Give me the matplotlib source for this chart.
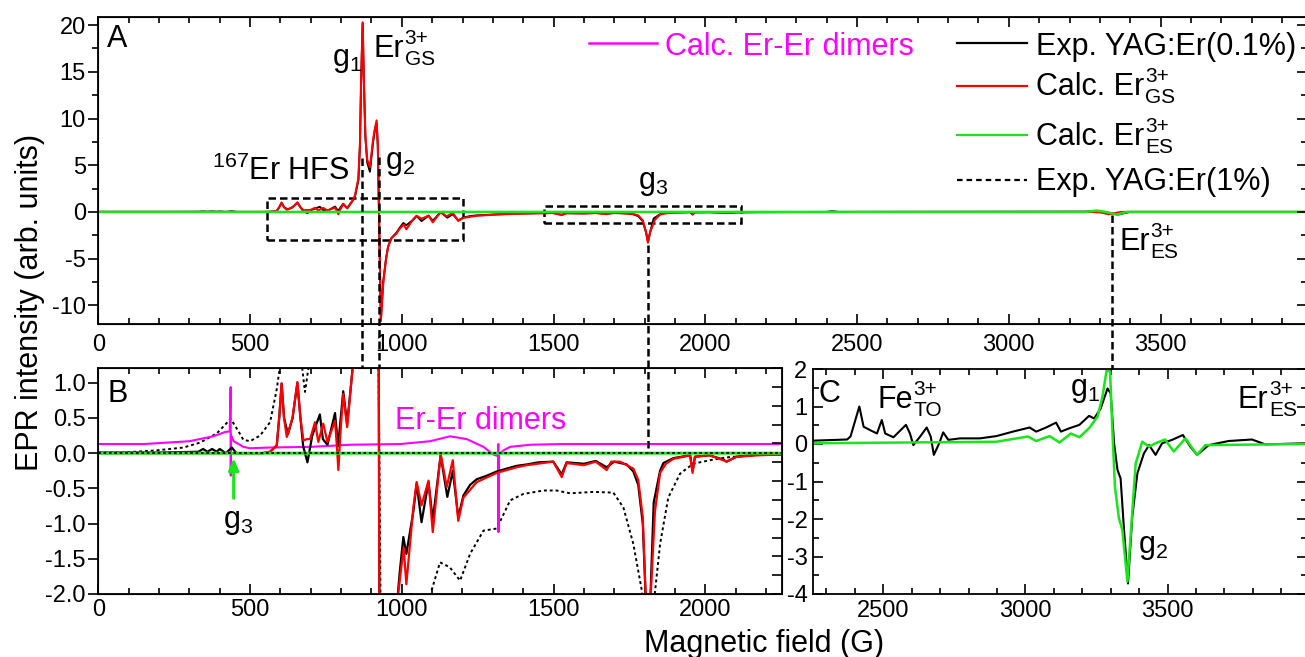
import numpy as np
import matplotlib as mpl
mpl.use('Agg')
import matplotlib.pyplot as plt
from matplotlib.lines import Line2D
from matplotlib.patches import Rectangle
from matplotlib.ticker import MultipleLocator, FormatStrFormatter

plt.rcParams['font.family'] = ['Liberation Sans', 'DejaVu Sans']
plt.rcParams['mathtext.fontset'] = 'custom'
plt.rcParams['mathtext.rm'] = 'Liberation Sans'
plt.rcParams['mathtext.it'] = 'Liberation Sans:italic'
plt.rcParams['mathtext.bf'] = 'Liberation Sans:bold'
plt.rcParams['axes.unicode_minus'] = False

# (field in G, EPR intensity)
exp_01 = [(0, 0.01), (200, 0.01), (330, 0.02), (345, 0.06), (360, 0.02), (375, 0.06), (390, 0.02),
          (400, 0.06), (420, 0.0), (440, 0.08), (455, 0.0), (540, 0.0), (566, 0.02), (588, 0.11),
          (597, 0.55), (604, 0.99), (612, 0.5), (625, 0.27), (640, 0.5), (656, 1.0), (666, 0.5),
          (675, 0.1), (689, -0.13), (705, 0.25), (730, 0.55), (740, 0.2), (755, 0.12), (780, 0.57),
          (790, 0.1), (807, 0.88), (820, 0.41), (840, 1.3), (846, 1.7), (857, 3.4), (862, 7.0),
          (866, 14.0), (871, 20.2), (875, 14.0), (880, 8.0), (886, 5.3), (895, 4.3), (905, 7.4),
          (910, 8.5), (917, 9.5), (921, 7.0), (926, -2.2), (931, -11.5), (939, -7.4), (948, -5.0),
          (955, -3.7), (966, -2.8), (983, -2.2), (993, -1.7), (1005, -1.19), (1015, -1.43),
          (1038, -0.83), (1049, -0.43), (1065, -0.98), (1088, -0.41), (1102, -0.95), (1128, -0.03),
          (1150, -0.62), (1168, -0.25), (1186, -0.91), (1203, -0.60), (1225, -0.45), (1247, -0.37),
          (1280, -0.32), (1313, -0.26), (1345, -0.22), (1378, -0.18), (1412, -0.16), (1450, -0.13),
          (1499, -0.12), (1527, -0.30), (1543, -0.13), (1600, -0.15), (1639, -0.11), (1675, -0.20),
          (1700, -0.12), (1741, -0.16), (1763, -0.26), (1779, -0.45), (1794, -1.0), (1805, -2.2),
          (1811, -3.2), (1818, -2.2), (1830, -0.7), (1851, -0.25), (1862, -0.14), (1895, -0.07),
          (1950, -0.03), (1958, -0.25), (1966, -0.05), (2014, -0.03), (2059, -0.09), (2070, -0.12),
          (2103, -0.05), (2175, -0.02), (2245, -0.02), (2400, 0.0), (2417, 0.08), (2440, 0.0),
          (3250, 0.03), (3289, 0.11), (3312, 0.0), (3361, -0.28), (3400, 0.0), (3990, 0.0)]

calc_gs = [(0, 0.0), (540, 0.0), (566, 0.02), (588, 0.11), (597, 0.55), (604, 0.99), (612, 0.5),
           (621, 0.23), (640, 0.5), (656, 1.01), (666, 0.5), (676, 0.18), (687, 0.20), (698, 0.20),
           (714, 0.44), (725, 0.16), (741, 0.42), (755, 0.16), (780, 0.46), (786, 0.1), (791, -0.24),
           (798, 0.3), (807, 0.84), (820, 0.37), (840, 1.3), (846, 1.8), (857, 3.6), (862, 7.2),
           (866, 14.2), (871, 20.3), (875, 14.2), (880, 8.2), (886, 5.6), (895, 4.8), (905, 7.6),
           (910, 8.7), (917, 9.8), (921, 7.2), (926, -2.2), (931, -11.7), (939, -7.6), (948, -5.1),
           (955, -3.7), (966, -2.8), (983, -2.3), (988, -2.0), (1006, -1.34), (1015, -1.86),
           (1038, -0.77), (1049, -0.41), (1065, -0.74), (1088, -0.39), (1102, -1.12), (1128, -0.01),
           (1148, -0.48), (1168, -0.10), (1186, -0.96), (1203, -0.63), (1247, -0.41), (1313, -0.28),
           (1378, -0.20), (1412, -0.17), (1499, -0.12), (1527, -0.34), (1543, -0.14), (1600, -0.17),
           (1639, -0.12), (1675, -0.24), (1690, -0.12), (1719, -0.12), (1741, -0.17), (1763, -0.22),
           (1779, -0.38), (1794, -0.91), (1805, -2.2), (1811, -3.3), (1818, -2.2), (1834, -0.83),
           (1851, -0.28), (1870, -0.15), (1895, -0.08), (1950, -0.03), (1958, -0.28), (1966, -0.05),
           (2014, -0.03), (2059, -0.10), (2070, -0.12), (2103, -0.05), (2175, -0.03), (2245, -0.02),
           (2500, -0.01), (3260, 0.0), (3300, -0.05), (3330, -0.25), (3370, 0.0), (3990, 0.0)]

calc_es = [(0, 0.0), (3250, 0.0), (3290, 0.14), (3320, 0.0), (3355, -0.29), (3390, 0.0), (3990, 0.0)]

exp_1 = [(0, 0.01), (82, 0.01), (192, 0.04), (280, 0.08), (335, 0.15), (390, 0.28), (417, 0.40),
         (436, 0.49), (459, 0.33), (478, 0.19), (500, 0.17), (533, 0.25), (566, 0.44), (588, 0.91),
         (601, 1.3), (625, 1.8), (660, 1.6), (672, 1.2), (681, 0.87), (692, 1.2), (703, 1.5),
         (750, 2.5), (850, 6.0), (915, 5.0), (926, 0.0), (935, -5.0), (1000, -3.5), (1080, -2.4),
         (1098, -1.95), (1126, -1.55), (1158, -1.62), (1192, -1.81), (1225, -1.43), (1269, -1.10),
         (1313, -1.07), (1357, -0.67), (1400, -0.58), (1466, -0.53), (1510, -0.53), (1554, -0.57),
         (1631, -0.55), (1697, -0.56), (1730, -0.77), (1763, -1.29), (1790, -1.93), (1805, -3.0),
         (1820, -3.0), (1834, -1.98), (1851, -1.29), (1878, -0.63), (1917, -0.29), (1960, -0.15),
         (2015, -0.10), (2070, -0.06), (2180, -0.02), (2260, -0.01)]

dimers = [(0, 0.13), (150, 0.13), (300, 0.17), (379, 0.24), (417, 0.30), (433, 0.31), (436, 0.94),
          (436.5, -0.32), (437, 0.26), (446, 0.17), (478, 0.09), (500, 0.07), (560, 0.08), (700, 0.09),
          (829, 0.12), (994, 0.13), (1093, 0.17), (1159, 0.24), (1214, 0.20), (1269, 0.09),
          (1302, -0.02), (1316, -0.04), (1318, 0.13), (1318.5, -1.12), (1319, -0.02), (1335, 0.04),
          (1357, 0.09), (1423, 0.12), (1527, 0.13), (2260, 0.13)]

c_exp = [(2256, 0.09), (2373, 0.12), (2385, 0.2), (2402, 0.64), (2416, 1.0), (2431, 0.46), (2454, 0.37),
         (2478, 0.28), (2495, 0.64), (2507, 0.28), (2536, 0.18), (2580, 0.51), (2594, 0.28),
         (2606, -0.03), (2630, 0.2), (2653, 0.44), (2667, 0.2), (2678, -0.29), (2697, 0.02),
         (2711, 0.31), (2729, 0.11), (2770, 0.15), (2840, 0.15), (2898, 0.21), (2956, 0.33),
         (3015, 0.44), (3038, 0.33), (3073, 0.44), (3108, 0.57), (3125, 0.33), (3155, 0.42),
         (3190, 0.51), (3224, 0.75), (3242, 0.68), (3265, 0.95), (3289, 1.48), (3300, 1.35),
         (3312, 0.02), (3324, -0.69), (3335, -0.92), (3347, -2.29), (3361, -3.72), (3376, -1.94),
         (3394, -0.78), (3417, -0.25), (3435, -0.03), (3458, -0.29), (3481, 0.02), (3516, 0.11),
         (3554, 0.24), (3580, -0.07), (3604, -0.29), (3645, -0.03), (3715, 0.08), (3797, 0.12),
         (3844, -0.01), (3990, 0.02)]

c_es = [(2256, 0.02), (2898, 0.06), (3009, 0.2), (3038, 0.08), (3085, 0.21), (3120, 0.04), (3160, 0.28),
        (3190, 0.18), (3224, 0.42), (3254, 0.73), (3271, 1.26), (3286, 1.97), (3298, 1.93),
        (3306, 0.37), (3315, -1.14), (3329, -1.98), (3341, -2.29), (3359, -3.67), (3370, -2.47),
        (3388, -0.52), (3411, 0.06), (3435, -0.07), (3458, 0.02), (3491, 0.12), (3522, -0.2),
        (3563, 0.15), (3604, -0.29), (3633, -0.03), (3990, 0.0)]

W, H = 1305, 657
black, red, green, magenta = 'black', '#ff0000', '#19e619', '#ff00ff'
dash = (0, (3, 1.6))
dots = (0, (1.5, 1.5))


def fx(px):
    return px / W


def fy(py):
    return 1 - py / H


def ftext(px, py, s, **kw):
    kw.setdefault('fontsize', 22)
    kw.setdefault('ha', 'left')
    kw.setdefault('va', 'baseline')
    return fig.text(fx(px), fy(py), s, **kw)


def ion(px, py, base, sup, sub, color='black'):
    # base text with stacked super/subscript, e.g. Er 3+ / GS
    t = ftext(px, py, base, color=color)
    xs = t.get_window_extent(renderer).x1 + 1
    fig.text(xs / W, fy(py - 13), sup, fontsize=15, ha='left', va='baseline', color=color)
    fig.text(xs / W, fy(py + 8), sub, fontsize=15, ha='left', va='baseline', color=color)


def style(ax, pad):
    for sp in ax.spines.values():
        sp.set_linewidth(1.3)
    ax.tick_params(which='both', direction='in', top=True, labelsize=17, width=1.2)
    ax.tick_params(which='major', length=7)
    ax.tick_params(which='minor', length=4)
    ax.tick_params(axis='x', pad=pad)


fig = plt.figure(figsize=(13.05, 6.57), dpi=100)
renderer = fig.canvas.get_renderer()

# panel A
axA = fig.add_axes([fx(98.3), fy(324), (1307 - 98.3) / W, (324 - 16.7) / H])
axA.set_xlim(0, (1307 - 98.3) / 0.3035)
axA.set_ylim(-12.0, 20.9)
f, v = np.array(exp_01).T
axA.plot(f, v, color=black, lw=1.4)
f, v = np.array(calc_gs).T
axA.plot(f, v, color=red, lw=1.5)
f, v = np.array(calc_es).T
axA.plot(f, v, color=green, lw=1.8)
axA.add_patch(Rectangle((557, -3.03), 1200.7 - 557, 4.53, fill=False, ls=dash, lw=1.8, color=black))
axA.add_patch(Rectangle((1469, -1.18), 2117 - 1469, 1.78, fill=False, ls=dash, lw=1.8, color=black))
style(axA, 7)
axA.xaxis.set_major_locator(MultipleLocator(500))
axA.xaxis.set_minor_locator(MultipleLocator(100))
axA.yaxis.set_major_locator(MultipleLocator(5))
axA.yaxis.set_minor_locator(MultipleLocator(2.5))
axA.tick_params(axis='y', which='both', direction='out', right=False, pad=2)
axA.set_xticks([0, 500, 1000, 1500, 2000, 2500, 3000, 3500])
axAr = axA.twinx()
axAr.set_ylim(axA.get_ylim())
axAr.yaxis.set_major_locator(MultipleLocator(5))
axAr.yaxis.set_minor_locator(MultipleLocator(2.5))
axAr.tick_params(which='both', direction='in', labelright=False, width=1.2)
axAr.tick_params(which='major', length=7)
axAr.tick_params(which='minor', length=4)

# panel B
axB = fig.add_axes([fx(98.3), fy(594), (782 - 98.3) / W, (594 - 368) / H])
axB.set_xlim(0, (782 - 98.3) / 0.3035)
axB.set_ylim(-2.0, 1.21)
f, v = np.array(exp_1).T
axB.plot(f, v, color=black, lw=1.4, ls=dots)
f, v = np.array(dimers).T
axB.plot(f, v, color=magenta, lw=1.5)
f, v = np.array(exp_01).T
axB.plot(f, v, color=black, lw=1.6)
f, v = np.array(calc_gs).T
axB.plot(f, v, color=red, lw=1.6)
f, v = np.array(calc_es).T
axB.plot(f, v, color=green, lw=2.2)
axB.axhline(0, color=black, lw=1.3, ls=dots)
axB.annotate('', xy=(446, -0.07), xytext=(446, -0.64),
             arrowprops=dict(arrowstyle='-|>,head_length=0.7,head_width=0.3', color=green, lw=2.2,
                             shrinkA=0, shrinkB=0))
style(axB, 3.5)
axB.xaxis.set_major_locator(MultipleLocator(500))
axB.xaxis.set_minor_locator(MultipleLocator(100))
axB.set_yticks([-2.0, -1.5, -1.0, -0.5, 0.0, 0.5, 1.0])
axB.yaxis.set_major_formatter(FormatStrFormatter('%.1f'))
axB.tick_params(axis='y', which='both', direction='out', right=False, pad=2)
axBr = axB.twinx()
axBr.set_ylim(-4, 2)
axBr.yaxis.set_major_locator(MultipleLocator(0.5))
axBr.tick_params(direction='in', labelright=False, width=1.2, length=7)

# panel C
axC = fig.add_axes([fx(813), fy(594), (1307 - 813) / W, (594 - 369) / H])
axC.set_xlim(2253, 2253 + (1307 - 813) / 0.2843)
axC.set_ylim(-4, 2)
f, v = np.array(c_exp).T
axC.plot(f, v, color=black, lw=1.5)
f, v = np.array(c_es).T
axC.plot(f, v, color=green, lw=1.8)
style(axC, 4.5)
axC.set_xticks([2500, 3000, 3500])
axC.xaxis.set_minor_locator(MultipleLocator(100))
axC.yaxis.set_major_locator(MultipleLocator(1))
axC.yaxis.set_minor_locator(MultipleLocator(0.5))
axC.tick_params(axis='y', which='both', right=True, pad=4)
for sp in axC.spines.values():
    sp.set_zorder(3)

# guide lines linking the panels
for px, y0, y1 in [(361.7, 158, 368), (379.3, 157, 368), (648.3, 245, 452.7), (1111.5, 215, 369)]:
    fig.add_artist(Line2D([fx(px), fx(px)], [fy(y0), fy(y1)], color=black, lw=1.8, ls=dash))

# legends
for ly, c, ls in [(43, black, '-'), (86, red, '-'), (135, green, '-'), (180, black, (0, (2.5, 1.8)))]:
    fig.add_artist(Line2D([fx(957), fx(1027)], [fy(ly), fy(ly)], color=c, lw=1.6, ls=ls))
ftext(1036, 55, 'Exp. YAG:Er(0.1%)')
ion(1036, 95, 'Calc. Er', '3+', 'GS')
ion(1036, 145, 'Calc. Er', '3+', 'ES')
ftext(1036, 190, 'Exp. YAG:Er(1%)')
fig.add_artist(Line2D([fx(589), fx(657)], [fy(43), fy(43)], color=magenta, lw=1.8))
ftext(665, 55, 'Calc. Er-Er dimers', color=magenta)

# annotations
ftext(107, 47, 'A')
ftext(107, 402, 'B')
ftext(818, 402, 'C')
ftext(332, 66, r'g$_1$')
ion(373, 57, 'Er', '3+', 'GS')
ftext(212, 180, r'$^{167}$Er HFS')
ftext(385, 169, r'g$_2$')
ftext(638, 189, r'g$_3$')
ion(1119, 250, 'Er', '3+', 'ES')
ftext(223, 528, r'g$_3$')
ftext(395, 429, 'Er-Er dimers', color=magenta)
ion(877, 408, 'Fe', '3+', 'TO')
ftext(1070, 396, r'g$_1$')
ftext(1138, 553, r'g$_2$')
ion(1238, 408, 'Er', '3+', 'ES')

ftext(764, 652, 'Magnetic field (G)', ha='center')
fig.text(fx(30), fy(302), 'EPR intensity (arb. units)', fontsize=22, rotation=90, ha='center', va='center')

fig.savefig('out.png', dpi=100)
